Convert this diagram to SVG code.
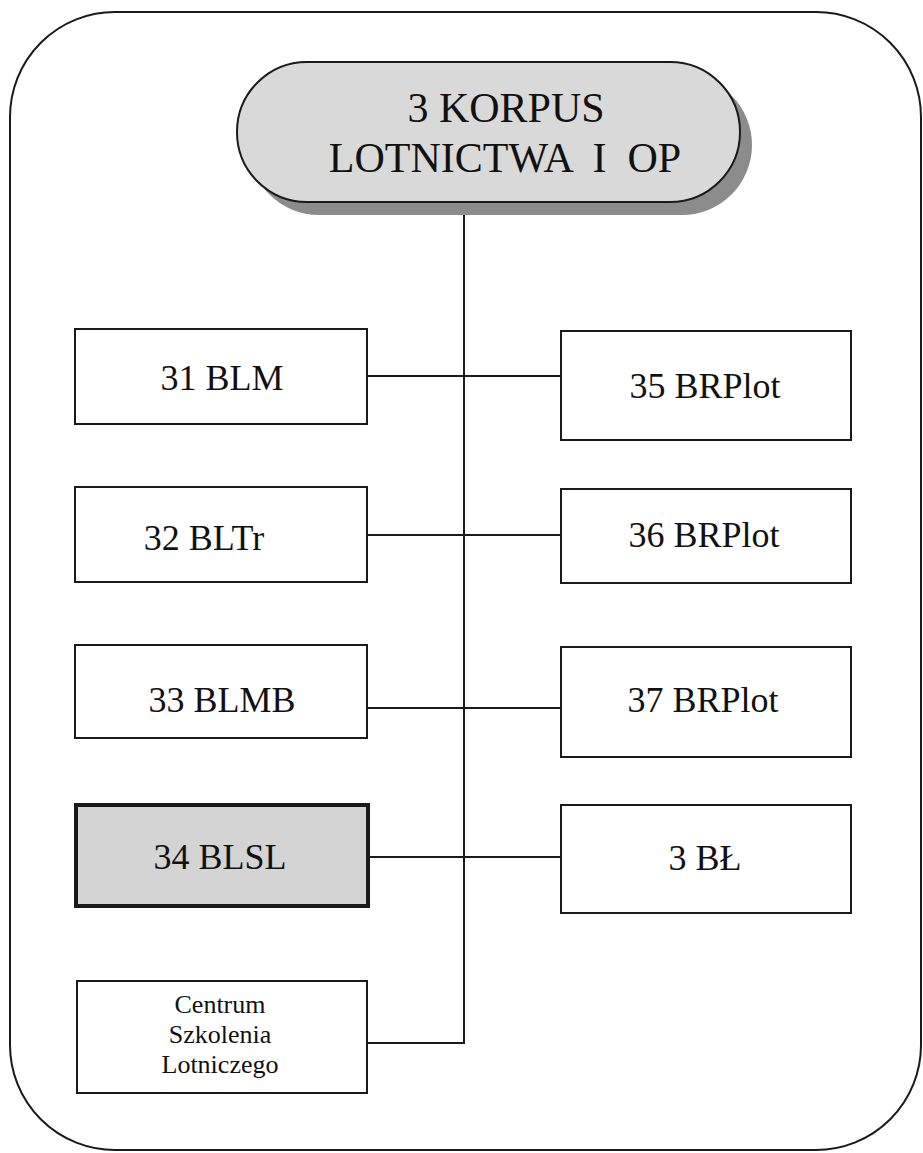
<svg xmlns="http://www.w3.org/2000/svg" width="923" height="1153" viewBox="0 0 923 1153">
<style>
.box{fill:#fff;stroke:#1a1a1a;stroke-width:2}
.ln{stroke:#1a1a1a;stroke-width:2;fill:none}
</style>
<rect x="0" y="0" width="923" height="1153" fill="#fff"/>
<rect id="frame" x="10" y="12" width="911" height="1138" rx="105" ry="105" fill="none" stroke="#1a1a1a" stroke-width="2"/>
<g id="connectors">
<line class="ln" x1="464" y1="202" x2="464" y2="1044"/>
<line class="ln" x1="367" y1="376" x2="561" y2="376"/>
<line class="ln" x1="367" y1="535" x2="561" y2="535"/>
<line class="ln" x1="367" y1="708" x2="561" y2="708"/>
<line class="ln" x1="368" y1="857" x2="561" y2="857"/>
<line class="ln" x1="367" y1="1043" x2="464" y2="1043"/>
</g>
<g font-family="Liberation Serif" fill="#111" text-anchor="middle">
<g id="n_korpus">
<rect x="249" y="75" width="503" height="140" rx="70" ry="70" fill="#8c8c8c"/>
<rect x="237" y="62" width="503" height="140" rx="70" ry="70" fill="#d9d9d9" stroke="#1a1a1a" stroke-width="2"/>
<text x="506" y="122" font-size="42">3 KORPUS</text>
<text x="505" y="172" font-size="42" xml:space="preserve">LOTNICTWA  I  OP</text>
</g>
<g id="n31"><rect class="box" x="75" y="329" width="292" height="95"/><text x="222" y="390" font-size="36">31 BLM</text></g>
<g id="n32"><rect class="box" x="75" y="487" width="292" height="95"/><text x="204" y="550" font-size="36">32 BLTr</text></g>
<g id="n33"><rect class="box" x="75" y="645" width="292" height="93"/><text x="222" y="712" font-size="36">33 BLMB</text></g>
<g id="n34"><rect x="76" y="805" width="292" height="101" fill="#d4d4d4" stroke="#1a1a1a" stroke-width="4"/><text x="220" y="869" font-size="36">34 BLSL</text></g>
<g id="n_centrum"><rect class="box" x="77" y="981" width="290" height="112"/>
<text x="220" y="1013" font-size="26">Centrum</text>
<text x="220" y="1043" font-size="26">Szkolenia</text>
<text x="220" y="1073" font-size="26">Lotniczego</text></g>
<g id="n35"><rect class="box" x="561" y="331" width="290" height="109"/><text x="705" y="398" font-size="36">35 BRPlot</text></g>
<g id="n36"><rect class="box" x="561" y="489" width="290" height="94"/><text x="704" y="547" font-size="36">36 BRPlot</text></g>
<g id="n37"><rect class="box" x="561" y="647" width="290" height="110"/><text x="703" y="712" font-size="36">37 BRPlot</text></g>
<g id="n3bl"><rect class="box" x="561" y="805" width="290" height="108"/><text x="705" y="870" font-size="36">3 BŁ</text></g>
</g>
</svg>
